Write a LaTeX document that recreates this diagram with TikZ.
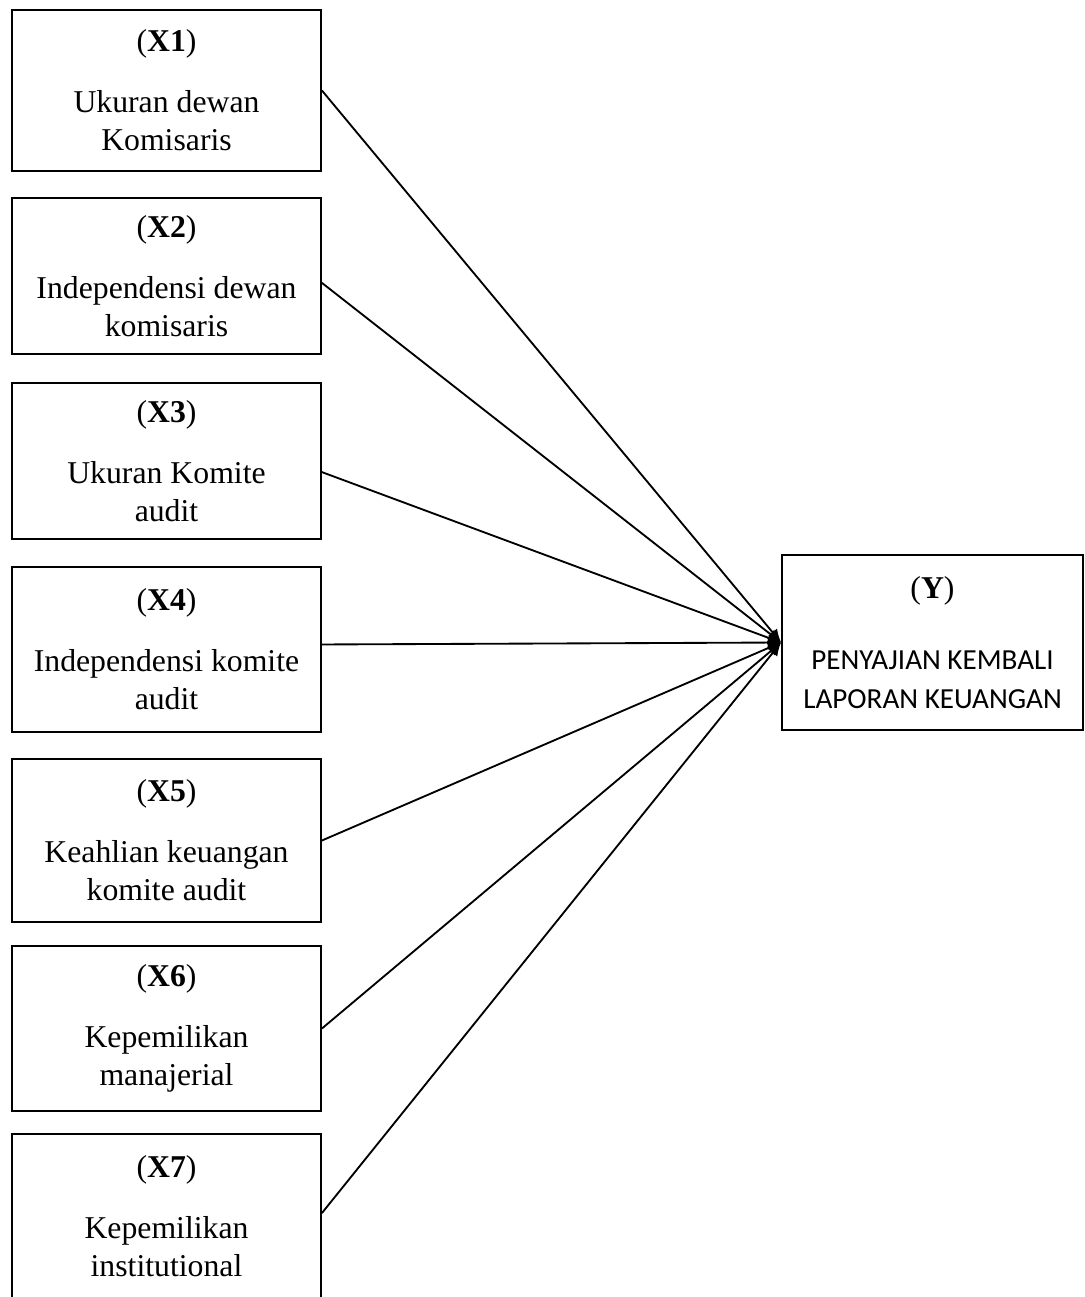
\documentclass[tikz,border=0pt]{standalone}
\usepackage{fontspec}
\setmainfont{Liberation Serif}
\newfontfamily\carlito{Carlito}
\usetikzlibrary{arrows.meta}

\begin{document}
\begin{tikzpicture}[x=0.378pt, y=-0.378pt,
     var/.style = {draw, rectangle, line width=0.7pt, align=center, inner sep=0pt,
      minimum width=116.8pt, minimum height=61pt, font=\fontsize{12}{14.4}\selectfont},
     dep/.style = {var, minimum width=113.8pt, minimum height=66.2pt},
     arrow/.style = {draw, line width=0.7pt, -{Latex[length=5pt,width=4.5pt]}}
    ]
    \useasboundingbox (0,0) rectangle (1084,1297);

    \node [var, minimum height=60.9pt] (x1) at (166.5,90.5) {(\textbf{X1})\\[8.6pt]Ukuran dewan\\Komisaris};
    \node [var, minimum height=59pt] (x2) at (166.5,276) {(\textbf{X2})\\[8.6pt]Independensi dewan\\komisaris};
    \node [var, minimum height=59pt] (x3) at (166.5,461) {(\textbf{X3})\\[8.6pt]Ukuran Komite\\audit};
    \node [var, minimum height=62.4pt] (x4) at (166.5,649.5) {(\textbf{X4})\\[8.6pt]Independensi komite\\audit};
    \node [var, minimum height=61.6pt] (x5) at (166.5,840.5) {(\textbf{X5})\\[8.6pt]Keahlian keuangan\\komite audit};
    \node [var, minimum height=62.4pt] (x6) at (166.5,1028.5) {(\textbf{X6})\\[8.6pt]Kepemilikan\\manajerial};
    \node [var, minimum height=62.4pt] (x7) at (166.5,1216.5) {(\textbf{X7})\\[8.6pt]Kepemilikan\\institutional};

    \node [dep] (y) at (932.5,642.5) {(\textbf{Y})\\[12.5pt]{\carlito\fontsize{11}{14}\selectfont PENYAJIAN KEMBALI}\\{\carlito\fontsize{11}{14}\selectfont LAPORAN KEUANGAN}};

    % hubungan X -> Y
    \draw [arrow] (x1.east) -- (y.west);
    \draw [arrow] ([yshift=-2.6pt]x2.east) -- (y.west);
    \draw [arrow] ([yshift=-4.2pt]x3.east) -- (y.west);
    \draw [arrow] ([yshift=1.9pt]x4.east) -- (y.west);
    \draw [arrow] (x5.east) -- (y.west);
    \draw [arrow] (x6.east) -- (y.west);
    \draw [arrow] ([yshift=1.3pt]x7.east) -- (y.west);

\end{tikzpicture}
\end{document}
